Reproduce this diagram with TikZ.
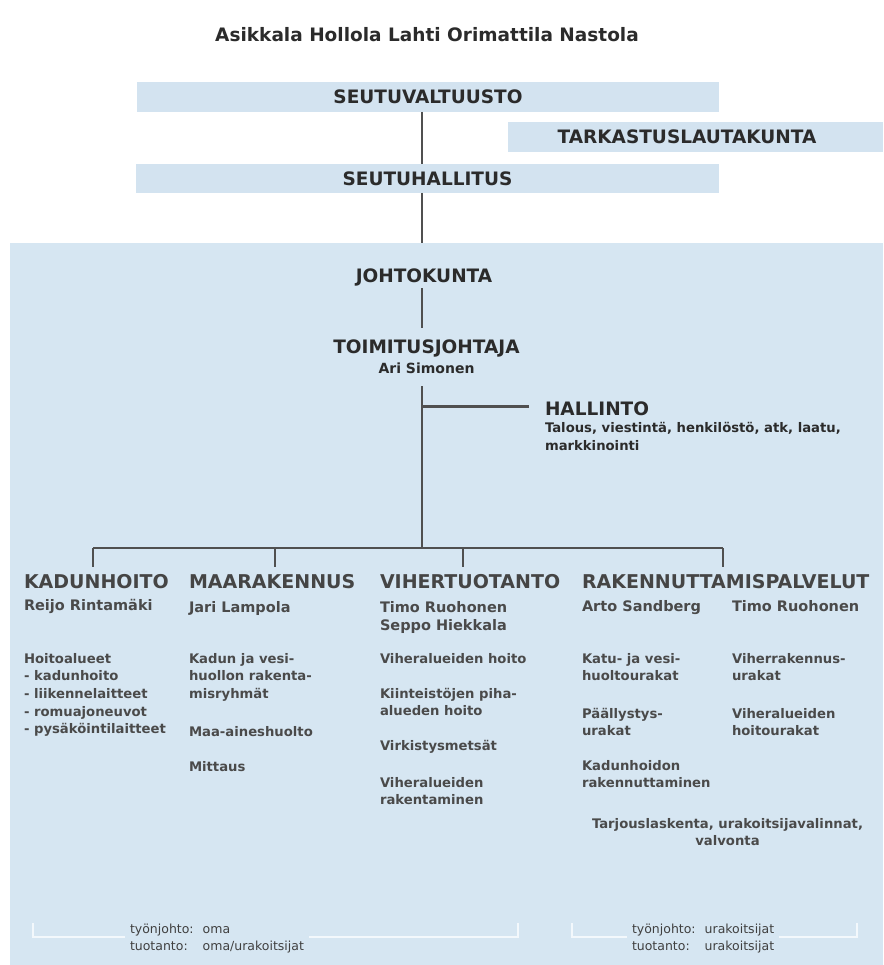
\documentclass[tikz,border=0pt]{standalone}
\usepackage{fontspec}
\setmainfont{DejaVu Sans}
\usetikzlibrary{calc}
\definecolor{panelc}{HTML}{D6E6F2}
\definecolor{boxc}{HTML}{D3E3F0}
\definecolor{topc}{HTML}{2B2B2B}
\definecolor{headc}{HTML}{454545}
\definecolor{bodyc}{HTML}{4A4A4A}
\definecolor{linec}{HTML}{505050}
\definecolor{footc}{HTML}{404040}
\definecolor{brkc}{HTML}{F3F8FC}
\newcommand{\mlines}[1]{\begin{tabular}[t]{@{}l@{}}#1\end{tabular}}
\newcommand{\mlinesc}[1]{\begin{tabular}[t]{@{}c@{}}#1\end{tabular}}
\newcommand{\footcols}[1]{\begin{tabular}[t]{@{}l@{\hspace{9pt}}l@{}}#1\end{tabular}}
\tikzset{
  every node/.style={inner sep=0pt, outer sep=0pt},
  toptxt/.style={font=\bfseries\fontsize{18.5}{22}\selectfont, text=topc},
  box/.style={fill=boxc, font=\bfseries\fontsize{18.5}{22}\selectfont, text=topc},
  tname/.style={font=\bfseries\fontsize{14}{18}\selectfont, text=topc},
  tbody/.style={font=\bfseries\fontsize{13.2}{18}\selectfont, text=topc, anchor=base west},
  head/.style={font=\bfseries\fontsize{19}{22}\selectfont, text=headc, anchor=base west},
  pname/.style={font=\bfseries\fontsize{14.5}{18}\selectfont, text=bodyc, anchor=base west},
  body/.style={font=\bfseries\fontsize{13.2}{17.7}\selectfont, text=bodyc, anchor=base west},
  foot/.style={font=\fontsize{12.5}{17}\selectfont, text=footc, fill=panelc, anchor=base west, inner xsep=5pt},
  conn/.style={draw=linec, line width=2.5pt},
  thin/.style={draw=linec, line width=2pt},
  brk/.style={draw=brkc, line width=1.5pt},
}
\begin{document}
\begin{tikzpicture}[x=1pt,y=-1pt]
\useasboundingbox (0,0) rectangle (883,965);
\fill[white] (0,0) rectangle (883,965);
\fill[panelc] (10,243) rectangle (883,965);
\coordinate (axis) at (422,0);
\coordinate (ptop) at (422,243);
\coordinate (b1) at (93,548);
\coordinate (b2) at (275,548);
\coordinate (b3) at (463,548);
\coordinate (b4) at (723,548);

% top
\node[toptxt, anchor=base] (title) at (427,42) {Asikkala Hollola Lahti Orimattila Nastola};
\node[box, minimum width=582pt, minimum height=30pt] (sv) at (428,97) {SEUTUVALTUUSTO};
\node[box, minimum width=375pt, minimum height=30pt] (tk) at (695.5,137) {\hspace*{-17pt}TARKASTUSLAUTAKUNTA};
\node[box, minimum width=583pt, minimum height=29pt] (sh) at (427.5,178.5) {SEUTUHALLITUS};

\node[toptxt, anchor=base] (jk) at (424,283) {JOHTOKUNTA};
\node[toptxt, anchor=base] (tj) at (426.5,353) {TOIMITUSJOHTAJA};
\node[tname, anchor=base] (as) at (426.5,373) {Ari Simonen};
\node[toptxt, anchor=base west] (hal) at (545,415) {HALLINTO};
\node[tbody] (halt) at (545,432) {\mlines{Talous, viestintä, henkilöstö, atk, laatu,\\markkinointi}};

% connectors top
\draw[conn] (sv.south -| axis) -- (sh.north -| axis);
\draw[conn] (sh.south -| axis) -- (ptop);
\draw[thin] ($(jk.base -| axis)+(0,5)$) -- ($(tj.base -| axis)+(0,-25)$);
\draw[conn] ($(as.base -| axis)+(0,13)$) -- (axis |- b1);
\draw[conn] ($(hal.west)+(-16,-2)$) -- ($(hal.west -| axis)+(0,-2)$);

% bus and ticks
\draw[conn] (b1) -- (b4);

% columns
\node[head] (kad) at (24,588) {KADUNHOITO};
\node[head] (maa) at (189,588) {MAARAKENNUS};
\node[head] (vih) at (380,588) {VIHERTUOTANTO};
\node[head] (rak) at (582,588) {RAKENNUTTAMISPALVELUT};

\draw[thin] (b1) -- ($(b1 |- kad.north)+(0,-7)$);
\draw[thin] (b2) -- ($(b2 |- maa.north)+(0,-7)$);
\draw[thin] (b3) -- ($(b3 |- vih.north)+(0,-7)$);
\draw[thin] (b4) -- ($(b4 |- rak.north)+(0,-7)$);

\node[pname] (kadn) at (24,610) {Reijo Rintamäki};
\node[pname] (maan) at (189,612) {Jari Lampola};
\node[pname] (vihn) at (380,612) {\mlines{Timo Ruohonen\\Seppo Hiekkala}};
\node[pname] (rakn1) at (582,611) {Arto Sandberg};
\node[pname] (rakn2) at (732,611) {Timo Ruohonen};

\node[body] (kadb) at (24,663) {\mlines{Hoitoalueet\\- kadunhoito\\- liikennelaitteet\\- romuajoneuvot\\- pysäköintilaitteet}};
\node[body] (maab1) at (189,663) {\mlines{Kadun ja vesi-\\huollon rakenta-\\misryhmät}};
\node[body] (maab2) at (189,736) {Maa-aineshuolto};
\node[body] (maab3) at (189,771) {Mittaus};
\node[body] (vihb1) at (380,663) {Viheralueiden hoito};
\node[body] (vihb2) at (380,698) {\mlines{Kiinteistöjen piha-\\alueden hoito}};
\node[body] (vihb3) at (380,750) {Virkistysmetsät};
\node[body] (vihb4) at (380,787) {\mlines{Viheralueiden\\rakentaminen}};
\node[body] (rakb1) at (582,663) {\mlines{Katu- ja vesi-\\huoltourakat}};
\node[body] (rakb2) at (582,718) {\mlines{Päällystys-\\urakat}};
\node[body] (rakb3) at (582,770) {\mlines{Kadunhoidon\\rakennuttaminen}};
\node[body] (rakb4) at (732,663) {\mlines{Viherrakennus-\\urakat}};
\node[body] (rakb5) at (732,718) {\mlines{Viheralueiden\\hoitourakat}};
\node[body, anchor=base] (tarj) at (727.5,828) {\mlinesc{Tarjouslaskenta, urakoitsijavalinnat,\\valvonta}};

% bottom brackets
\draw[brk] (33,923) -- (33,937) -- (518,937) -- (518,923);
\draw[brk] (572,923) -- (572,937) -- (857,937) -- (857,923);
\node[foot] (footl) at (125,933) {\footcols{työnjohto: & oma\\tuotanto: & oma/urakoitsijat}};
\node[foot] (footr) at (627,933) {\footcols{työnjohto: & urakoitsijat\\tuotanto: & urakoitsijat}};
\end{tikzpicture}
\end{document}
